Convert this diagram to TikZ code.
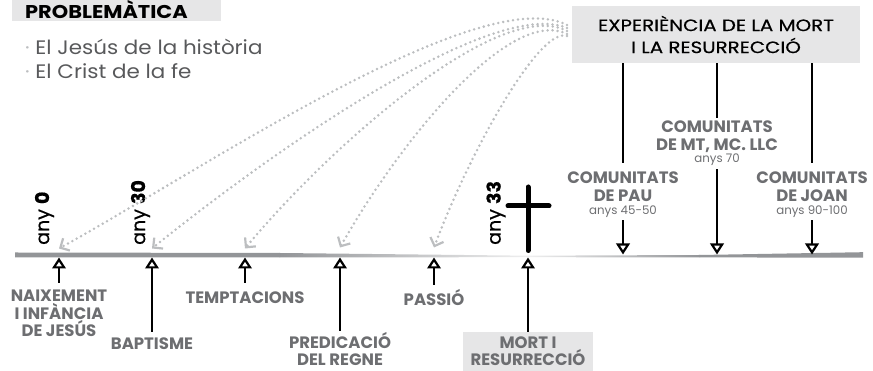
\documentclass[tikz,border=0pt]{standalone}
\usepackage{fontspec}
\setmainfont{Poppins}
\newfontfamily\widefont{Poppins}[FakeStretch=1.13]
\newfontfamily\boxfont{Poppins}[FakeStretch=1.2,FakeBold=0.5]
\newfontfamily\listfont{Poppins}[FakeStretch=1.1]
\newfontfamily\yearfont{Poppins}[FakeBold=0.5]
\usetikzlibrary{arrows.meta}
\definecolor{labelgray}{HTML}{6D6E71}
\definecolor{boxgray}{HTML}{E6E6E7}
\definecolor{dotgray}{HTML}{BCBEC0}
\definecolor{textgray}{HTML}{58595B}
\definecolor{linegray}{HTML}{939598}
\tikzset{
  event/.style={
    font=\fontsize{16.5}{17.5}\selectfont\bfseries,
    text=labelgray,
    align=center,
    inner sep=0pt,
    anchor=north
  },
  years/.style={
    font=\fontsize{11.8}{12}\selectfont,
    text=labelgray,
    inner sep=0pt,
    anchor=base
  },
  year/.style={
    font=\yearfont\fontsize{19}{19}\selectfont,
    rotate=90,
    anchor=west,
    inner sep=0pt
  },
  tick/.style={
    line width=2pt,
    -{Triangle[open,length=11pt,width=13.5pt,line width=2.2pt]}
  },
  conn/.style={line width=2pt},
  dots/.style={
    dotgray,
    line width=2.8pt,
    line cap=round,
    dash pattern=on 0pt off 5pt,
    -{Straight Barb[length=7pt,width=14pt,line width=2.2pt]}
  }
}
\begin{document}
\begin{tikzpicture}[x=1pt,y=1pt]
  \useasboundingbox (0,0) rectangle (873,371);
  % timeline
  \fill[linegray] (15,113.5) -- (15,118.5) -- (280,118) -- (280,113.6) -- cycle;
  \shade[left color=linegray, right color=linegray!15]
    (279.5,113.6) -- (279.5,118) -- (528,115.3) -- (528,113.8) -- cycle;
  \shade[left color=linegray!15, right color=linegray]
    (528,113.8) -- (528,115.3) -- (700,116) -- (700,113.6) -- cycle;
  \fill[linegray] (699.5,113.6) -- (699.5,116) -- (863,118.8) -- (863,113.3) -- cycle;
  \coordinate (e1) at (59,113.5);
  \coordinate (e2) at (152,113.5);
  \coordinate (e3) at (245,113.5);
  \coordinate (e4) at (340,113.5);
  \coordinate (e5) at (434,113.5);
  \coordinate (e6) at (528,113.5);
  \coordinate (c1) at (623,116.5);
  \coordinate (c2) at (717,116.5);
  \coordinate (c3) at (812,116.5);

  % problematica
  \fill[boxgray] (12,350) rectangle (221,371);
  \node[anchor=base west, inner sep=0pt, font=\widefont\fontsize{18.5}{18.5}\selectfont\bfseries] (prob) at (25,352) {PROBLEMÀTICA};
  \node[anchor=base west, inner sep=0pt, text=textgray, font=\listfont\fontsize{19.5}{24}\selectfont] (hist) at (25,316) {\textcolor{dotgray}{·} El Jesús de la història};
  \node[anchor=base west, inner sep=0pt, text=textgray, font=\listfont\fontsize{19.5}{24}\selectfont] (fe) at (25,292) {\textcolor{dotgray}{·} El Crist de la fe};

  % anys
  \node[year] (any0) at (44.5,126) {any \textbf{0}};
  \node[year] (any30) at (140.5,126) {any \textbf{30}};
  \node[year] (any33) at (496,126) {any \textbf{33}};

  % creu
  \draw[line width=5pt, line cap=round] (528,120.5) -- (528,184);
  \draw[line width=5pt, line cap=round] (508,165) -- (549,165);

  % fets de la vida
  \node[event] (naix) at (59,81) {NAIXEMENT\\I INFÀNCIA\\DE JESÚS};
  \node[event] (bapt) at (152,33) {BAPTISME};
  \node[event] (tempt) at (245,79) {TEMPTACIONS};
  \node[event] (pred) at (340,39) {PREDICACIÓ\\DEL REGNE};
  \node[event] (pass) at (434,82) {PASSIÓ};
  \node[event, anchor=south, fill=boxgray, minimum width=130, minimum height=39] (mort) at (528,0) {MORT I\\RESURRECCIÓ};
  \draw[tick] ([yshift=7pt]naix.north) -- (e1);
  \draw[tick] ([yshift=6pt]bapt.north) -- (e2);
  \draw[tick] ([yshift=9pt]tempt.north) -- (e3);
  \draw[tick] ([yshift=1pt]pred.north) -- (e4);
  \draw[tick] ([yshift=4pt]pass.north) -- (e5);
  \draw[tick] (mort.north) -- (e6);

  % experiencia i comunitats
  \node[fill=boxgray, minimum width=288, minimum height=57, inner sep=0pt, align=center,
        text=black, font=\boxfont\fontsize{16.5}{22}\selectfont] (exp) at (716,336.5)
        {EXPERIÈNCIA DE LA MORT\\I LA RESURRECCIÓ};
  \node[event] (pau) at (623,199) {COMUNITATS\\DE PAU};
  \node[years] (pauy) at (623,156) {anys 45-50};
  \node[event] (mt) at (717,250) {COMUNITATS\\DE MT, MC. LLC};
  \node[years] (mty) at (717,208) {anys 70};
  \node[event] (joan) at (812,199) {COMUNITATS\\DE JOAN};
  \node[years] (joany) at (812,156) {anys 90-100};
  \draw[conn] (pau.north |- exp.south) -- ([yshift=9pt]pau.north);
  \draw[conn] (mt.north |- exp.south) -- ([yshift=3pt]mt.north);
  \draw[conn] (joan.north |- exp.south) -- ([yshift=9pt]joan.north);
  \draw[tick] ([yshift=-2pt]pauy.south) -- (c1);
  \draw[tick] ([yshift=-3pt]mty.south) -- (c2);
  \draw[tick] ([yshift=-2pt]joany.south) -- (c3);

  % fletxes puntejades
  \coordinate (s1) at (567,346);
  \coordinate (s2) at (567,343);
  \coordinate (s3) at (567,340);
  \coordinate (s4) at (567,337);
  \coordinate (s5) at (567,335);
  \draw[dots] (s1) .. controls (480,390) and (200,200) .. ([yshift=9pt]e1);
  \draw[dots] (s2) .. controls (490,375) and (260,210) .. ([yshift=9pt]e2);
  \draw[dots] (s3) .. controls (500,375) and (330,225) .. ([yshift=9pt]e3);
  \draw[dots] (s4) .. controls (510,365) and (400,230) .. ([yshift=10pt]e4);
  \draw[dots] (s5) .. controls (540,345) and (470,220) .. ([yshift=10pt]e5);
\end{tikzpicture}
\end{document}
